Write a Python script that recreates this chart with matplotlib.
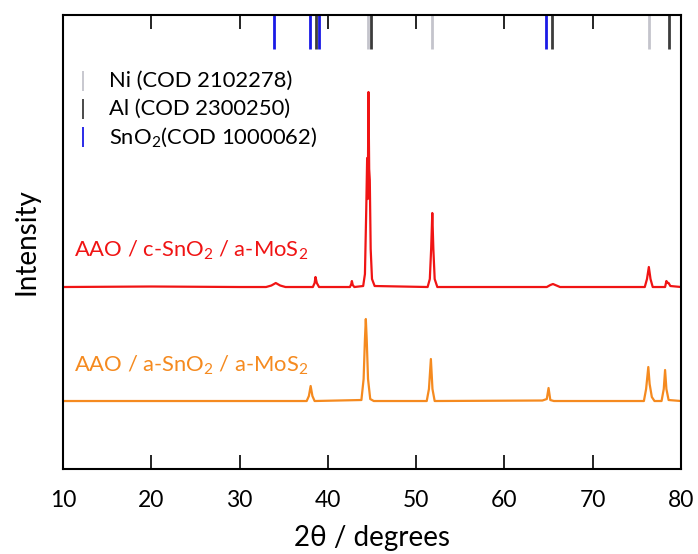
import matplotlib.pyplot as plt

plt.rcParams['font.family'] = ['Lato', 'DejaVu Sans']
plt.rcParams['mathtext.fontset'] = 'custom'
plt.rcParams['mathtext.rm'] = 'Lato'
plt.rcParams['mathtext.it'] = 'Lato:italic'

# XRD traces (2theta in degrees, intensity in arbitrary units)
tt_red = [10, 20, 30, 33.0, 33.6, 34.1, 34.6, 35.2, 38.3, 38.5, 38.6, 38.75, 39.0,
          42.5, 42.65, 42.72, 42.82, 43.0, 44.0, 44.2, 44.35, 44.45, 44.52, 44.6,
          44.68, 44.75, 44.85, 45.0, 45.3, 51.3, 51.55, 51.7, 51.83, 51.95, 52.1,
          52.4, 64.8, 65.2, 65.5, 65.9, 66.3, 75.9, 76.15, 76.36, 76.55, 76.8,
          78.2, 78.35, 78.5, 78.6, 78.8, 80]
int_red = [182, 182.5, 182, 182, 183.5, 186, 183.5, 182, 182, 186, 192, 186, 182,
           182, 185, 188, 184, 182, 183, 195, 260, 311, 270, 377,
           300, 289, 220, 190, 183, 182, 190, 220, 256, 220, 190,
           182, 182, 184, 185, 183.5, 182, 182, 190, 202, 190, 182,
           182, 188, 186, 186, 183, 182]

tt_orange = [10, 37.6, 37.85, 38.05, 38.25, 38.5, 43.8, 44.05, 44.2, 44.3, 44.4,
             44.55, 44.8, 45.2, 51.2, 51.45, 51.67, 51.85, 52.1, 64.3, 64.8, 65.0,
             65.2, 65.6, 75.8, 76.05, 76.3, 76.45, 76.7, 77.0, 77.8, 78.05, 78.2,
             78.35, 78.6, 80]
int_orange = [68, 68, 73, 83, 73, 68, 69, 90, 130, 150, 130,
              90, 70, 68, 68, 80, 110, 80, 68, 68.5, 70, 81,
              69, 68, 68, 80, 102, 85, 72, 68, 68, 80, 99,
              80, 69, 68]

# reference patterns
ni_pos = [44.5, 51.85, 76.4]
al_pos = [38.6, 44.84, 65.4, 78.67]
sno2_pos = [33.9, 37.95, 39.0, 64.75]

ni_color = '#c4c4cc'
al_color = '#3c3c3c'
sno2_color = '#1a1ae6'
red = '#f01414'
orange = '#f58a1f'

fig = plt.figure(figsize=(6.98, 5.54), dpi=100)
ax = fig.add_axes([0.0903, 0.1534, 0.8853, 0.8195])

ax.plot(tt_red, int_red, color=red, lw=1.6)
ax.plot(tt_orange, int_orange, color=orange, lw=1.6)

ax.vlines(ni_pos, 420, 454, color=ni_color, lw=2)
ax.vlines(al_pos, 420, 454, color=al_color, lw=2)
ax.vlines(sno2_pos, 420, 454, color=sno2_color, lw=2)

# hand-made legend
leg = [('Ni (COD 2102278)', ni_color, 388),
       ('Al (COD 2300250)', al_color, 360),
       ('SnO$_2$(COD 1000062)', sno2_color, 332)]
for label, c, yc in leg:
    ax.vlines(12.3, yc - 10, yc + 10, color=c, lw=1.3)
    ax.text(15.2, yc, label, fontsize=15.8, va='center', ha='left')

ax.text(11.2, 212.3, 'AAO / c-SnO$_2$ / a-MoS$_2$', color=red,
        fontsize=15.8, va='baseline')
ax.text(11.2, 97.3, 'AAO / a-SnO$_2$ / a-MoS$_2$', color=orange,
        fontsize=15.8, va='baseline')

ax.set_xlim(10, 80)
ax.set_ylim(0, 454)
ax.set_xticks(range(10, 81, 10))
ax.set_yticks([])
ax.tick_params(axis='x', direction='in', length=10, width=1.2, top=True,
               labelsize=16.5, pad=15)
for s in ax.spines.values():
    s.set_linewidth(1.5)

ax.set_xlabel('2θ / degrees', fontsize=20, labelpad=10)
ax.set_ylabel('Intensity', fontsize=20, labelpad=17)

fig.savefig('out.png', dpi=100)
